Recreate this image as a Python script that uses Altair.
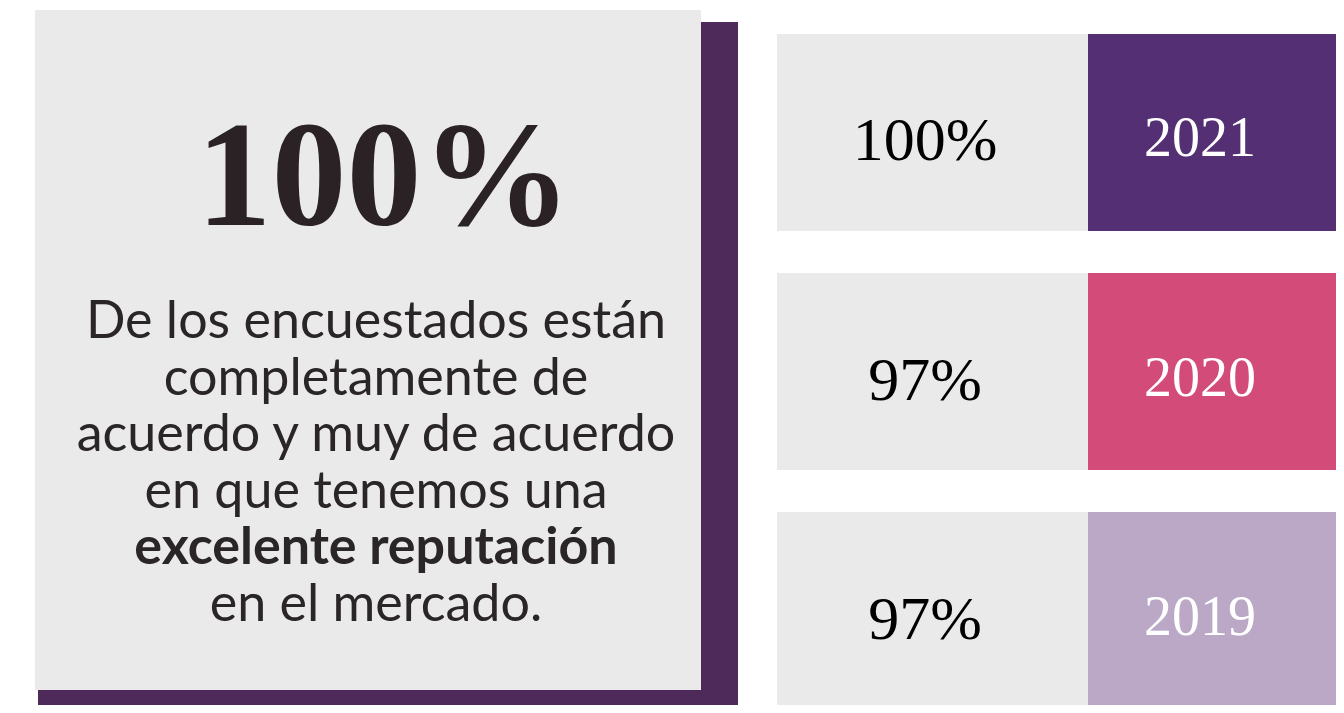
import altair as alt
import pandas as pd

# ---- data ----
years = ["2021", "2020", "2019"]
percents = [100, 97, 97]
year_colors = ["#552F74", "#D34C79", "#BAA8C6"]
headline_value = 100
description_lines = [
    "De los encuestados están",
    "completamente de",
    "acuerdo y muy de acuerdo",
    "en que tenemos una",
    "excelente reputación",
    "en el mercado.",
]
bold_flags = [False, False, False, False, True, False]

# ---- tables ----
rows = pd.DataFrame({
    "year": years,
    "pct": [f"{p}%" for p in percents],
    "color": year_colors,
})
one = pd.DataFrame({"label": [f"{headline_value}%"]})
desc = pd.DataFrame({
    "line": list(range(len(description_lines))),
    "text": description_lines,
    "bold": bold_flags,
})

W, H = 1328, 697
GREY = "#EAEAEA"
SHADOW = "#4E2A5A"

row_scale = alt.Scale(type="band", range=[26, 701], paddingInner=0.176, paddingOuter=0)
row_y = alt.Y("year:N", sort=years, axis=None, scale=row_scale)
row_y_mid = alt.Y("year:N", sort=years, axis=None, scale=row_scale, bandPosition=0.5)

shadow = alt.Chart(one).mark_rect(color=SHADOW).encode(
    x=alt.value(30), x2=alt.value(730), y=alt.value(14), y2=alt.value(H))
card = alt.Chart(one).mark_rect(color=GREY).encode(
    x=alt.value(27), x2=alt.value(693), y=alt.value(2), y2=alt.value(682))
headline = alt.Chart(one).mark_text(
    font="Liberation Serif", fontSize=150, fontWeight="bold",
    align="center", baseline="alphabetic", color="#2A2224"
).encode(text="label:N", x=alt.value(376), y=alt.value(217))

desc_y = alt.Y("line:Q", axis=None, scale=alt.Scale(domain=[0, 5], range=[330, 613]))
desc_normal = alt.Chart(desc).transform_filter("!datum.bold").mark_text(
    font="Lato", fontSize=52, align="center", baseline="alphabetic", color="#2A2526"
).encode(text="text:N", x=alt.value(368), y=desc_y)
desc_bold = alt.Chart(desc).transform_filter("datum.bold").mark_text(
    font="Lato", fontSize=52, fontWeight="bold", align="center",
    baseline="alphabetic", color="#2A2526"
).encode(text="text:N", x=alt.value(368), y=desc_y)

grey_cells = alt.Chart(rows).mark_rect(color=GREY).encode(
    x=alt.value(769), x2=alt.value(1080), y=row_y)
year_cells = alt.Chart(rows).mark_rect().encode(
    x=alt.value(1080), x2=alt.value(W), y=row_y,
    color=alt.Color("color:N", scale=None))
pct_text = alt.Chart(rows).mark_text(
    font="Liberation Serif", fontSize=62, align="center", baseline="middle",
    color="#000000", dy=9
).encode(text="pct:N", x=alt.value(917), y=row_y_mid)
year_text = alt.Chart(rows).mark_text(
    font="Liberation Serif", fontSize=56, align="center", baseline="middle",
    color="#FFFFFF", dy=7
).encode(text="year:N", x=alt.value(1192), y=row_y_mid)

chart = alt.layer(
    shadow, card, headline, desc_normal, desc_bold,
    grey_cells, year_cells, pct_text, year_text
).resolve_scale(y="independent", x="independent").properties(
    width=W, height=H, autosize=alt.AutoSizeParams(type="none"), padding=0,
    background="#FFFFFF"
).configure_view(stroke=None)

chart.save("out.html", embed_options={"renderer": "svg", "actions": False})
